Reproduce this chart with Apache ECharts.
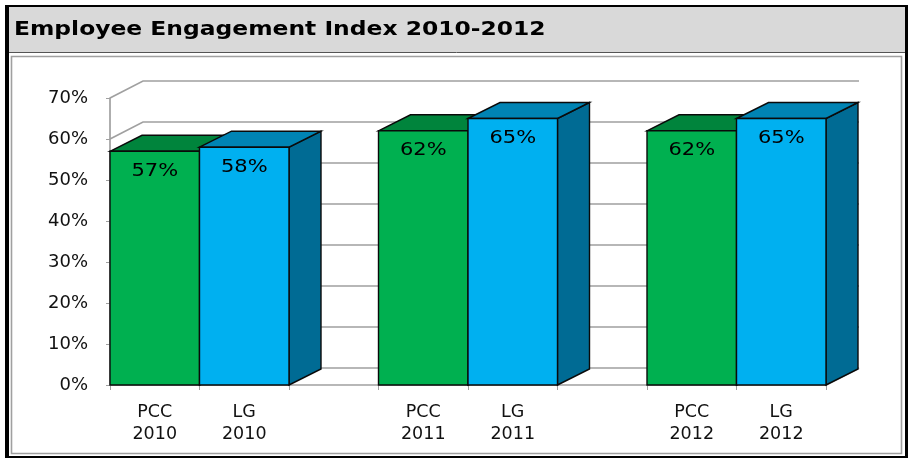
<!DOCTYPE html>
<html>
<head>
<meta charset="utf-8">
<script src="https://cdn.jsdelivr.net/npm/echarts@6/dist/echarts.min.js"></script>
<style>
  html, body { margin: 0; padding: 0; background: #fff; }
  #chart { width: 909px; height: 459px; }
</style>
</head>
<body>
<div id="chart"></div>
<script>
// slots along the floor, the empty ones are the gaps between years
const categories = ["PCC\n2010", "LG\n2010", "", "PCC\n2011", "LG\n2011", "", "PCC\n2012", "LG\n2012"];
const pccSlots = [0, 3, 6];
const pccValues = [57, 62, 62];
const lgSlots = [1, 4, 7];
const lgValues = [58, 65, 65];
const yTicks = [0, 10, 20, 30, 40, 50, 60, 70];

const WALL_DX = 33, WALL_DY = -17; // depth of the back wall
const BAR_DX = 32, BAR_DY = -16;   // depth of each column

const chart = echarts.init(document.getElementById("chart"));

// back wall + floor lines, y comes from the value axis
const wallItem = (params, api) => {
  const cs = params.coordSys;
  const v = api.value(1);
  const y = api.coord([0, v])[1];
  const x0 = cs.x, x1 = cs.x + cs.width;
  const lineStyle = { stroke: "#a0a0a0", lineWidth: 1.7, fill: null };
  const children = [{
    type: "polyline",
    shape: { points: [[x0, y], [x0 + WALL_DX, y + WALL_DY], [x1 + WALL_DX, y + WALL_DY]] },
    style: lineStyle
  }];
  if (v === 0) {
    children.push({
      type: "line",
      shape: { x1: x1, y1: y, x2: x1 + WALL_DX, y2: y + WALL_DY },
      style: lineStyle
    });
  }
  return { type: "group", children };
};

const barItem = (colors) => (params, api) => {
  const v = api.value(1);
  const base = api.coord([api.value(0), 0]);
  const top = api.coord([api.value(0), v]);
  const w = api.size([1, 0])[0];
  const l = base[0] - w / 2, r = base[0] + w / 2;
  const ty = top[1], by = base[1];
  const edge = { stroke: "#0a0a0a", lineWidth: 1.4 };
  return {
    type: "group",
    children: [
      {
        type: "polygon",
        shape: { points: [[r, ty], [r + BAR_DX, ty + BAR_DY], [r + BAR_DX, by + BAR_DY], [r, by]] },
        style: Object.assign({ fill: colors.side }, edge)
      },
      {
        type: "polygon",
        shape: { points: [[l, ty], [l + BAR_DX, ty + BAR_DY], [r + BAR_DX, ty + BAR_DY], [r, ty]] },
        style: Object.assign({ fill: colors.top }, edge)
      },
      {
        type: "rect",
        shape: { x: l, y: ty, width: w, height: by - ty },
        style: Object.assign({ fill: colors.front }, edge)
      },
      {
        type: "text",
        x: base[0],
        y: ty + 20,
        scaleX: 1.2,
        style: {
          text: v + "%",
          fill: "#000",
          font: '17.5px "DejaVu Sans"',
          align: "center",
          verticalAlign: "middle",
          textAlign: "center",
          textVerticalAlign: "middle"
        }
      }
    ]
  };
};

const option = {
  animation: false,
  backgroundColor: "#fff",
  graphic: [
    { type: "rect", z: -10, shape: { x: 8, y: 7, width: 898, height: 45 }, style: { fill: "#d9d9d9" } },
    { type: "line", z: -9, shape: { x1: 8, y1: 52.5, x2: 905, y2: 52.5 }, style: { stroke: "#555", lineWidth: 1 } },
    { type: "rect", z: -9, shape: { x: 11.5, y: 56.5, width: 890, height: 397 }, style: { fill: null, stroke: "#a0a0a0", lineWidth: 1.6 } },
    { type: "line", z: -8, shape: { x1: 7, y1: 5, x2: 7, y2: 458 }, style: { stroke: "#000", lineWidth: 4 } },
    { type: "line", z: -8, shape: { x1: 5, y1: 6, x2: 908, y2: 6 }, style: { stroke: "#000", lineWidth: 2 } },
    { type: "line", z: -8, shape: { x1: 906.5, y1: 5, x2: 906.5, y2: 458 }, style: { stroke: "#000", lineWidth: 3 } },
    { type: "line", z: -8, shape: { x1: 5, y1: 457, x2: 908, y2: 457 }, style: { stroke: "#000", lineWidth: 2 } },
    {
      type: "text",
      x: 14,
      y: 30,
      scaleX: 1.2,
      style: {
        text: "Employee Engagement Index 2010-2012",
        fill: "#000",
        font: 'bold 19.5px "DejaVu Sans"',
        textVerticalAlign: "middle",
        verticalAlign: "middle"
      }
    }
  ],
  grid: { left: 110, right: 83, top: 98, bottom: 74 },
  xAxis: {
    type: "category",
    data: categories,
    axisLine: { lineStyle: { color: "#a0a0a0", width: 1.7 } },
    axisTick: { show: true, interval: 0, length: 5, lineStyle: { color: "#a0a0a0" } },
    axisLabel: {
      interval: 0,
      margin: 16,
      color: "#111",
      fontFamily: "DejaVu Sans",
      fontSize: 17.5,
      lineHeight: 22
    },
    splitLine: { show: false }
  },
  yAxis: {
    type: "value",
    min: 0,
    max: 70,
    interval: 10,
    axisLine: { show: true, lineStyle: { color: "#a0a0a0", width: 1.7 } },
    axisTick: { show: true, length: 4, lineStyle: { color: "#a0a0a0" } },
    axisLabel: {
      formatter: "{value}%",
      margin: 22,
      color: "#111",
      fontFamily: "DejaVu Sans",
      fontSize: 18
    },
    splitLine: { show: false }
  },
  series: [
    {
      type: "custom",
      name: "wall",
      silent: true,
      renderItem: wallItem,
      data: yTicks.map((v) => [0, v]),
      z: 1
    },
    {
      type: "custom",
      name: "PCC",
      renderItem: barItem({ front: "#00b050", top: "#00843c", side: "#00783a" }),
      data: pccSlots.map((s, i) => [s, pccValues[i]]),
      z: 3
    },
    {
      type: "custom",
      name: "LG",
      renderItem: barItem({ front: "#00b0f0", top: "#0084b4", side: "#006b94" }),
      data: lgSlots.map((s, i) => [s, lgValues[i]]),
      z: 3
    }
  ]
};

chart.setOption(option);
</script>
</body>
</html>
